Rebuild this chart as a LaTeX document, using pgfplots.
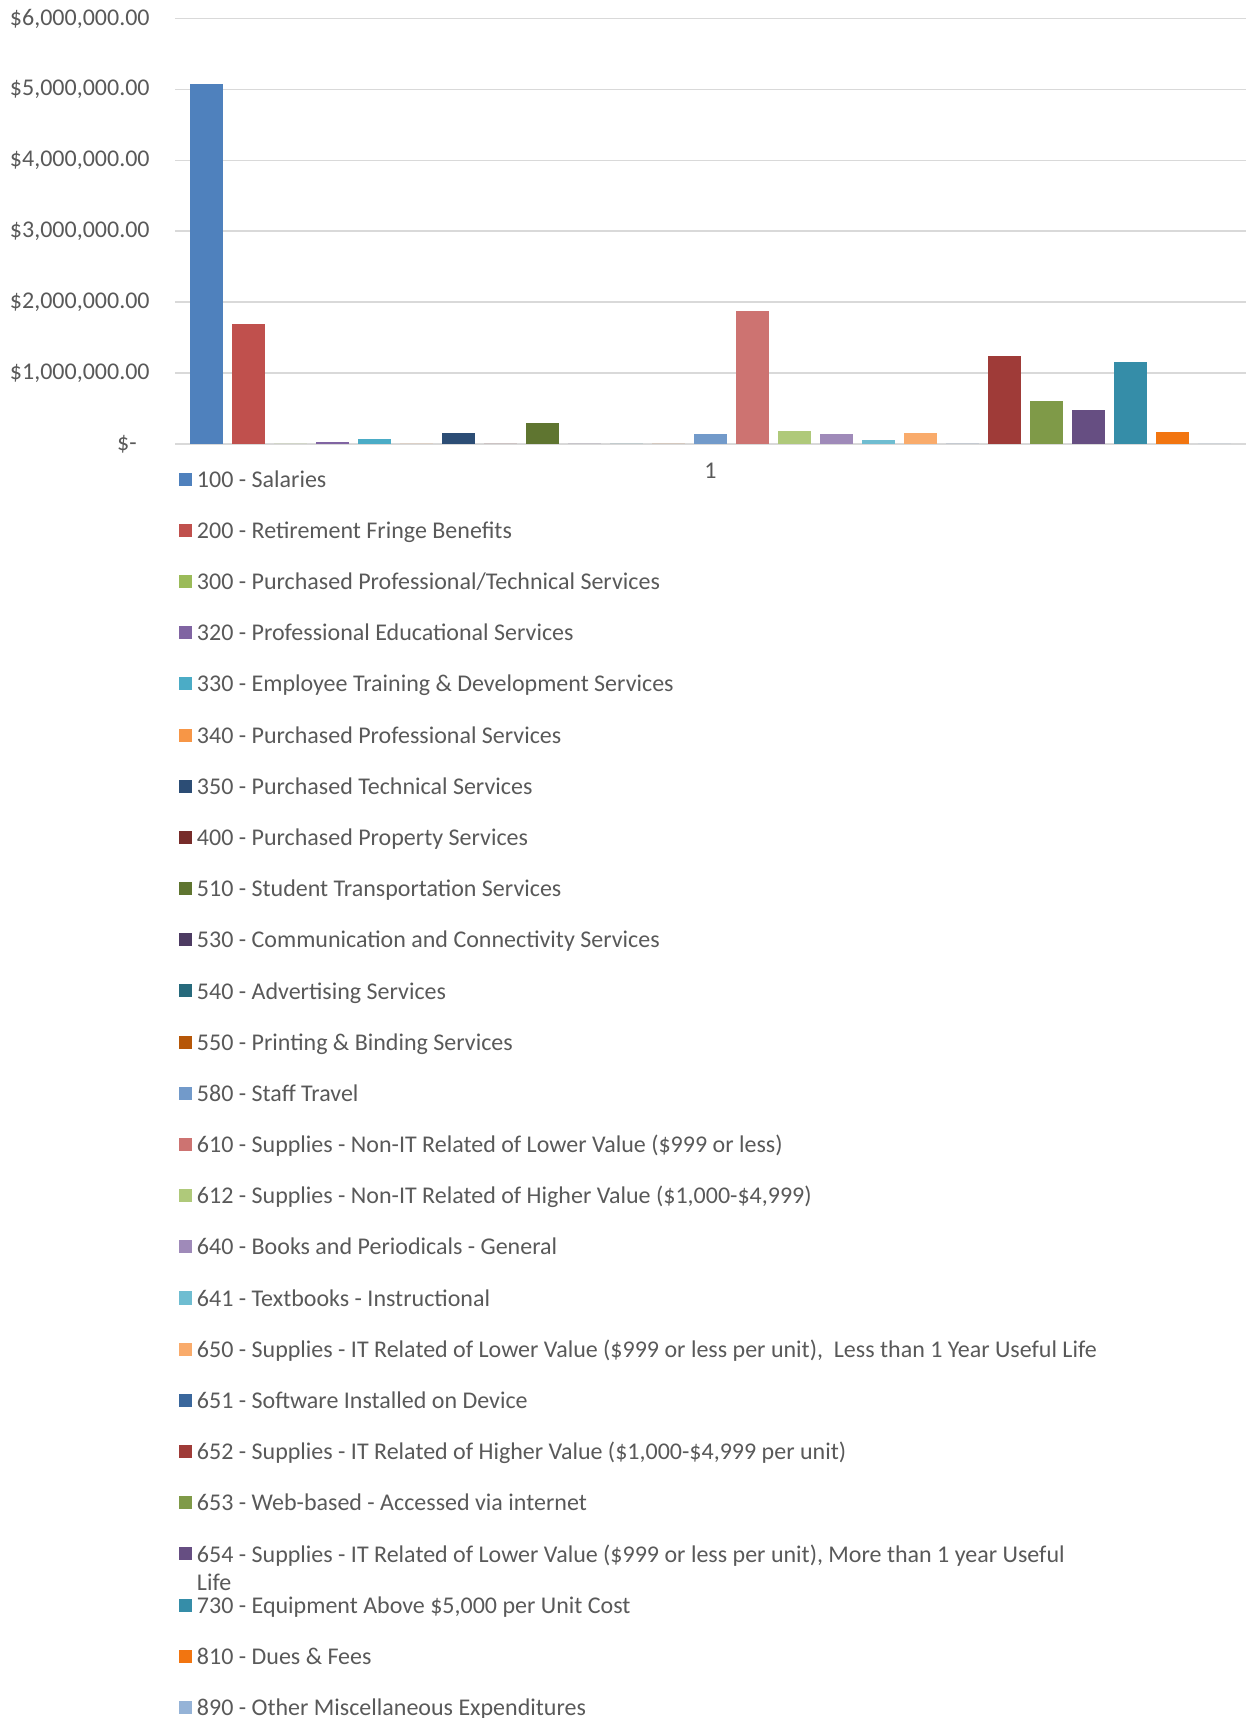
\documentclass[border=0pt]{standalone}
\usepackage{fontspec}
\setmainfont{Carlito}
\usepackage{pgfplots}
\pgfplotsset{compat=1.18}
\definecolor{txtgray}{HTML}{595959}
\definecolor{gridgray}{HTML}{D9D9D9}
\definecolor{c100}{HTML}{4F81BD}
\definecolor{c200}{HTML}{C0504D}
\definecolor{c300}{HTML}{9BBB59}
\definecolor{c320}{HTML}{8064A2}
\definecolor{c330}{HTML}{4BACC6}
\definecolor{c340}{HTML}{F79646}
\definecolor{c350}{HTML}{2C4D75}
\definecolor{c400}{HTML}{772C2A}
\definecolor{c510}{HTML}{5F7530}
\definecolor{c530}{HTML}{4D3B62}
\definecolor{c540}{HTML}{276A7C}
\definecolor{c550}{HTML}{B65708}
\definecolor{c580}{HTML}{729ACA}
\definecolor{c610}{HTML}{CD7371}
\definecolor{c612}{HTML}{AFC97A}
\definecolor{c640}{HTML}{9F8AB9}
\definecolor{c641}{HTML}{6FBDD1}
\definecolor{c650}{HTML}{F9AB6B}
\definecolor{c651}{HTML}{3A679C}
\definecolor{c652}{HTML}{9F3B38}
\definecolor{c653}{HTML}{7F9A48}
\definecolor{c654}{HTML}{664E82}
\definecolor{c730}{HTML}{358DA8}
\definecolor{c810}{HTML}{F27510}
\definecolor{c890}{HTML}{95B3D7}
\begin{document}
\begin{tikzpicture}
\useasboundingbox (0,0) rectangle (623pt,859pt);
\begin{axis}[
  at={(87.5pt,637.1pt)}, anchor=south west,
  scale only axis, width=535.5pt, height=212.6pt,
  ybar=4.6pt, bar width=16.4pt,
  xmin=0, xmax=2, ymin=0, ymax=6000000,
  xtick={1}, xticklabels={1},
  ytick={0,1000000,2000000,3000000,4000000,5000000,6000000},
  yticklabels={{\$-\makebox[6.5pt]{}},{\$1,000,000.00},{\$2,000,000.00},{\$3,000,000.00},{\$4,000,000.00},{\$5,000,000.00},{\$6,000,000.00}},
  scaled y ticks=false,
  ymajorgrids, grid style={draw=gridgray, line width=0.8pt},
  axis line style={draw=none},
  major tick length=0pt,
  tick label style={font=\fontsize{12}{14}\selectfont, text=txtgray},
  yticklabel style={anchor=east, inner sep=0pt, xshift=-12.5pt},
  xticklabel style={anchor=north, inner sep=0pt, yshift=-9.5pt},
  every axis plot/.append style={draw=none},
  legend cell align=left,
  legend style={at={(0.0037,-0.0668)}, anchor=north west, draw=none, fill=none,
    inner sep=0pt, outer sep=0pt, row sep=15.59pt, column sep=2.5pt,
    font=\fontsize{12}{14}\selectfont, text=txtgray,
    nodes={inner sep=0pt, text height=7.5pt, text depth=2.5pt}},
  legend image code/.code={\fill[#1] (0pt,-1.7pt) rectangle (6.5pt,4.8pt);},
]
\addplot[fill=c100] coordinates {(1,5078000)}; \addlegendentry{100 - Salaries}
\addplot[fill=c200] coordinates {(1,1691000)}; \addlegendentry{200 - Retirement Fringe Benefits}
\addplot[fill=c300] coordinates {(1,0)}; \addlegendentry{300 - Purchased Professional/Technical Services}
\addplot[fill=c320] coordinates {(1,28000)}; \addlegendentry{320 - Professional Educational Services}
\addplot[fill=c330] coordinates {(1,61000)}; \addlegendentry{330 - Employee Training \& Development Services}
\addplot[fill=c340] coordinates {(1,0)}; \addlegendentry{340 - Purchased Professional Services}
\addplot[fill=c350] coordinates {(1,151000)}; \addlegendentry{350 - Purchased Technical Services}
\addplot[fill=c400] coordinates {(1,0)}; \addlegendentry{400 - Purchased Property Services}
\addplot[fill=c510] coordinates {(1,287000)}; \addlegendentry{510 - Student Transportation Services}
\addplot[fill=c530] coordinates {(1,0)}; \addlegendentry{530 - Communication and Connectivity Services}
\addplot[fill=c540] coordinates {(1,0)}; \addlegendentry{540 - Advertising Services}
\addplot[fill=c550] coordinates {(1,0)}; \addlegendentry{550 - Printing \& Binding Services}
\addplot[fill=c580] coordinates {(1,132000)}; \addlegendentry{580 - Staff Travel}
\addplot[fill=c610] coordinates {(1,1875000)}; \addlegendentry{610 - Supplies - Non-IT Related of Lower Value (\$999 or less)}
\addplot[fill=c612] coordinates {(1,184000)}; \addlegendentry{612 - Supplies - Non-IT Related of Higher Value (\$1,000-\$4,999)}
\addplot[fill=c640] coordinates {(1,132000)}; \addlegendentry{640 - Books and Periodicals - General}
\addplot[fill=c641] coordinates {(1,47000)}; \addlegendentry{641 - Textbooks - Instructional}
\addplot[fill=c650] coordinates {(1,151000)}; \addlegendentry{650 - Supplies - IT Related of Lower Value (\$999 or less per unit),\ \ Less than 1 Year Useful Life}
\addplot[fill=c651] coordinates {(1,0)}; \addlegendentry{651 - Software Installed on Device}
\addplot[fill=c652] coordinates {(1,1239000)}; \addlegendentry{652 - Supplies - IT Related of Higher Value (\$1,000-\$4,999 per unit)}
\addplot[fill=c653] coordinates {(1,598000)}; \addlegendentry{653 - Web-based - Accessed via internet}
\addplot[fill=c654] coordinates {(1,480000)}; \addlegendentry{\makebox[0pt][l]{\smash{\raisebox{-14.2pt}{Life}}}654 - Supplies - IT Related of Lower Value (\$999 or less per unit), More than 1 year Useful}
\addplot[fill=c730] coordinates {(1,1154000)}; \addlegendentry{730 - Equipment Above \$5,000 per Unit Cost}
\addplot[fill=c810] coordinates {(1,170000)}; \addlegendentry{810 - Dues \& Fees}
\addplot[fill=c890] coordinates {(1,0)}; \addlegendentry{890 - Other Miscellaneous Expenditures}
\end{axis}
\end{tikzpicture}
\end{document}
